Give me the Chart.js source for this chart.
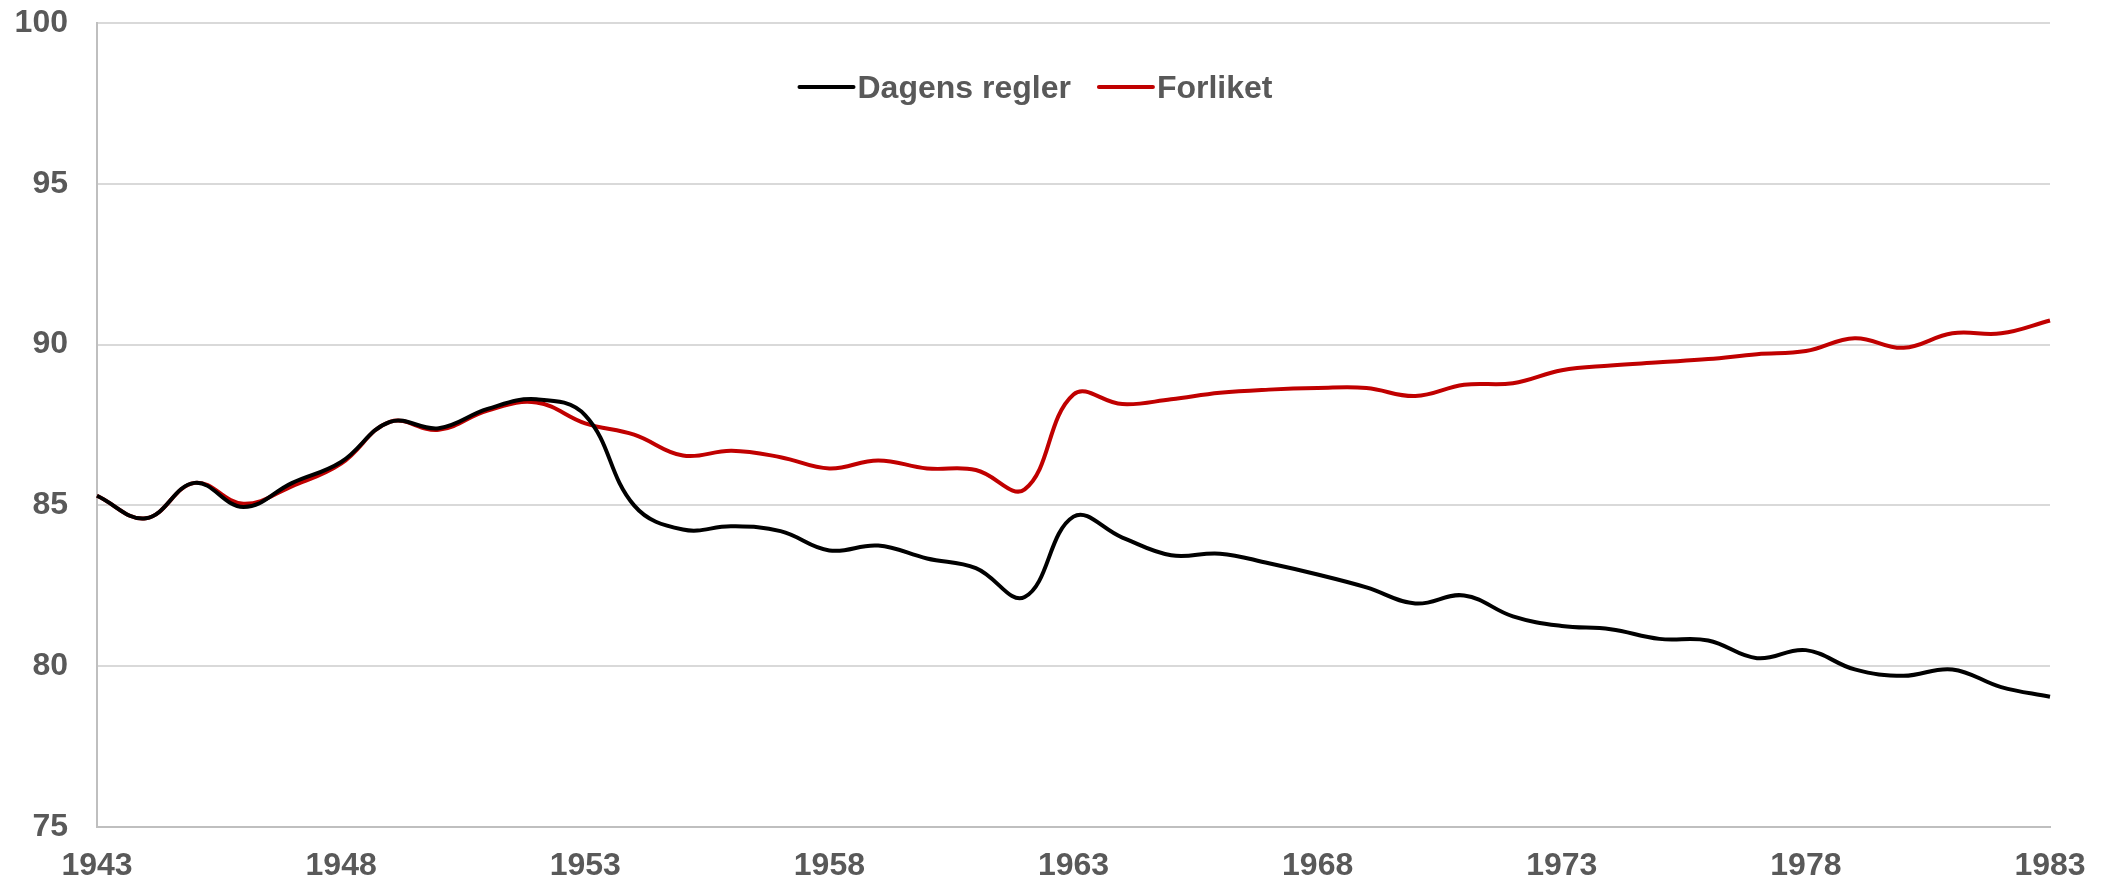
<!DOCTYPE html>
<html>
<head>
<meta charset="utf-8">
<script src="https://cdn.jsdelivr.net/npm/chart.js@4.4.1/dist/chart.umd.min.js"></script>
<style>
  html, body { margin: 0; padding: 0; background: #ffffff; }
  #wrap { width: 2101px; height: 880px; position: relative; }
</style>
</head>
<body>
<div id="wrap"><canvas id="c"></canvas></div>
<script>
const years = [1943,1944,1945,1946,1947,1948,1949,1950,1951,1952,1953,1954,1955,1956,1957,1958,1959,1960,1961,1962,1963,1964,1965,1966,1967,1968,1969,1970,1971,1972,1973,1974,1975,1976,1977,1978,1979,1980,1981,1982,1983];

const dagensRegler = [85.3,84.6,85.7,84.95,85.7,86.35,87.6,87.4,88.0,88.3,87.8,85.0,84.25,84.35,84.2,83.6,83.75,83.35,83.05,82.15,84.65,84.0,83.45,83.5,83.2,82.85,82.45,81.95,82.2,81.55,81.25,81.15,80.85,80.8,80.25,80.5,79.9,79.7,79.9,79.35,79.05];

const forliket = [85.3,84.6,85.7,85.05,85.6,86.3,87.6,87.35,87.95,88.2,87.55,87.2,86.55,86.7,86.5,86.15,86.4,86.15,86.1,85.5,88.45,88.15,88.3,88.5,88.6,88.65,88.65,88.4,88.75,88.8,89.2,89.35,89.45,89.55,89.7,89.8,90.2,89.9,90.35,90.35,90.75];

const seriesNames = ["Dagens regler", "Forliket"];
const yTicks = [75, 80, 85, 90, 95, 100];
const xTickYears = [1943,1948,1953,1958,1963,1968,1973,1978,1983];

const FONT = "'Liberation Sans', Arial, sans-serif";
const TEXT = "#595959";

const customLegend = {
  id: 'customLegend',
  afterDraw(chart) {
    const ctx = chart.ctx;
    ctx.save();
    ctx.font = "bold 32px " + FONT;
    ctx.textBaseline = 'middle';
    ctx.textAlign = 'left';
    const lineLen = 54, gapText = 4, gapItems = 28;
    const items = chart.data.datasets.map(d => ({label: d.label, color: d.borderColor, w: ctx.measureText(d.label).width}));
    let total = 0;
    items.forEach((it, i) => { total += lineLen + gapText + it.w + (i < items.length - 1 ? gapItems : 0); });
    let x = 1036 - total / 2;
    const y = 87;
    items.forEach(it => {
      ctx.strokeStyle = it.color;
      ctx.lineWidth = 4;
      ctx.lineCap = 'round';
      ctx.beginPath();
      ctx.moveTo(x, y);
      ctx.lineTo(x + lineLen, y);
      ctx.stroke();
      x += lineLen + gapText;
      ctx.fillStyle = TEXT;
      ctx.fillText(it.label, x, y + 2);
      x += it.w + gapItems;
    });
    ctx.restore();
  }
};

new Chart(document.getElementById('c'), {
  type: 'line',
  data: {
    labels: years,
    datasets: [
      { label: seriesNames[0], data: dagensRegler, borderColor: '#000000', backgroundColor: '#000000', borderWidth: 4, pointRadius: 0, tension: 0.4, fill: false },
      { label: seriesNames[1], data: forliket, borderColor: '#C00000', backgroundColor: '#C00000', borderWidth: 4, pointRadius: 0, tension: 0.4, fill: false }
    ]
  },
  options: {
    responsive: true,
    maintainAspectRatio: false,
    animation: false,
    layout: { padding: { left: 0, right: 51, top: 23, bottom: 0 } },
    plugins: {
      legend: { display: false },
      tooltip: { enabled: false }
    },
    scales: {
      x: {
        type: 'category',
        grid: { display: false, drawTicks: false },
        border: { display: true, color: '#bfbfbf', width: 2 },
        ticks: {
          autoSkip: false,
          maxRotation: 0,
          minRotation: 0,
          padding: 20,
          color: TEXT,
          font: { family: FONT, size: 32, weight: 'bold' },
          callback: function(val, idx) {
            const yr = years[idx];
            return xTickYears.includes(yr) ? String(yr) : '';
          }
        },
        afterFit(scale) {
          scale.height = 53;
          scale.paddingLeft = 0;
          scale.paddingRight = 0;
        }
      },
      y: {
        min: yTicks[0],
        max: yTicks[yTicks.length - 1],
        afterBuildTicks(scale) { scale.ticks = yTicks.map(v => ({ value: v })); },
        grid: { color: '#d9d9d9', lineWidth: 2, drawTicks: false },
        border: { display: true, color: '#bfbfbf', width: 2 },
        ticks: {
          padding: 29,
          color: TEXT,
          font: { family: FONT, size: 32, weight: 'bold' }
        },
        afterFit(scale) {
          scale.width = 97;
          scale.paddingTop = 0;
          scale.paddingBottom = 0;
        }
      }
    }
  },
  plugins: [customLegend]
});
</script>
</body>
</html>
